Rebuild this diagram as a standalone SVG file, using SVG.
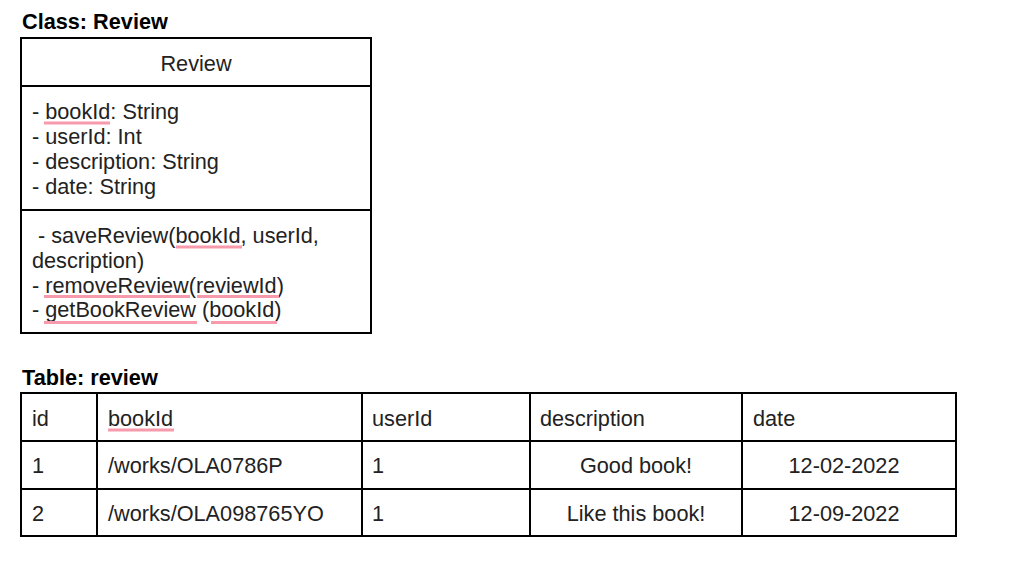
<svg xmlns="http://www.w3.org/2000/svg" width="1034" height="579" viewBox="0 0 1034 579">
<style>
text{font-family:"Liberation Sans",Arial,sans-serif;font-size:21.7px;fill:#222}
.b{font-weight:bold;fill:#000}
.box{fill:#fff;stroke:#000;stroke-width:2}
.ln{stroke:#000;stroke-width:2}
.ul{stroke:#f79aab;stroke-width:3}
.c{text-anchor:middle}
</style>
<rect width="1034" height="579" fill="#fff"/>
<g id="class-review">
<text class="b" x="22" y="29">Class: Review</text>
<rect class="box" x="21" y="38" width="350" height="295"/>
<line class="ln" x1="21" y1="86" x2="371" y2="86"/>
<line class="ln" x1="21" y1="210" x2="371" y2="210"/>
<text class="c" x="196" y="71">Review</text>
<text x="32" y="119">- bookId: String</text>
<text x="32" y="143.5">- userId: Int</text>
<text x="32" y="168.5">- description: String</text>
<text x="32" y="193.5">- date: String</text>
<text x="32" y="242.5" xml:space="preserve"> - saveReview(bookId, userId,</text>
<text x="32" y="267.5">description)</text>
<text x="32" y="292.5">- removeReview(reviewId)</text>
<text x="32" y="317">- getBookReview (bookId)</text>
<line class="ul" x1="44" y1="123" x2="110" y2="123"/>
<line class="ul" x1="176" y1="247" x2="242" y2="247"/>
<line class="ul" x1="44" y1="296.5" x2="190" y2="296.5"/>
<line class="ul" x1="197" y1="296.5" x2="279" y2="296.5"/>
<line class="ul" x1="44" y1="322.5" x2="197" y2="322.5"/>
<line class="ul" x1="211" y1="322.5" x2="277" y2="322.5"/>
</g>
<g id="table-review">
<text class="b" x="22" y="385">Table: review</text>
<rect class="box" x="21" y="393" width="935" height="143"/>
<line class="ln" x1="21" y1="441" x2="956" y2="441"/>
<line class="ln" x1="21" y1="489" x2="956" y2="489"/>
<line class="ln" x1="97" y1="393" x2="97" y2="536"/>
<line class="ln" x1="362" y1="393" x2="362" y2="536"/>
<line class="ln" x1="530" y1="393" x2="530" y2="536"/>
<line class="ln" x1="742" y1="393" x2="742" y2="536"/>
<text x="32" y="425.5">id</text>
<text x="108" y="425.5">bookId</text>
<text x="372" y="425.5">userId</text>
<text x="540" y="425.5">description</text>
<text x="753" y="425.5">date</text>
<line class="ul" x1="108" y1="430" x2="174" y2="430"/>
<text x="32" y="473">1</text>
<text x="108" y="473">/works/OLA0786P</text>
<text x="372" y="473">1</text>
<text class="c" x="636" y="473">Good book!</text>
<text class="c" x="844" y="473">12-02-2022</text>
<text x="32" y="521">2</text>
<text x="108" y="521">/works/OLA098765YO</text>
<text x="372" y="521">1</text>
<text class="c" x="636" y="521">Like this book!</text>
<text class="c" x="844" y="521">12-09-2022</text>
</g>
</svg>
